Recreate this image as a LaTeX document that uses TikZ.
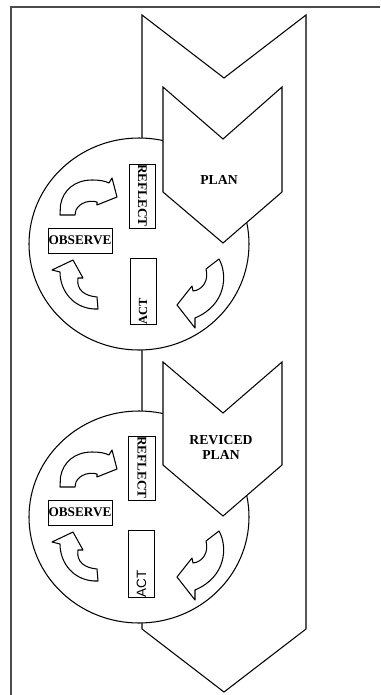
\documentclass[tikz,border=0pt]{standalone}
\usepackage{fontspec}
\setmainfont{Liberation Serif}
\newfontfamily\actsans{Liberation Sans}

\begin{document}
\begin{tikzpicture}[x=0.03cm, y=0.03cm, yscale=-1,
  outline/.style={draw=black, line width=0.9pt, fill=white, line join=miter},
  curvy/.style={draw=black, line width=0.9pt, fill=white, line join=round},
  wordbox/.style={rectangle, draw=black, line width=0.7pt, fill=white, inner sep=0pt},
  wordfont/.style={font=\bfseries\fontsize{11.3}{12}\selectfont},
  upright/.style={wordbox, wordfont, rotate=-90, text width=1.92cm, minimum height=0.8cm, align=left},
  upward/.style={wordbox, font=\bfseries\fontsize{10.6}{12}\selectfont, rotate=90, text width=2cm, minimum height=0.78cm, align=left},
  flat/.style={wordbox, wordfont, minimum width=1.92cm, minimum height=0.75cm},
  plantext/.style={font=\bfseries\fontsize{11.7}{12.8}\selectfont, align=center, inner sep=0pt}]

\useasboundingbox (0,0) rectangle (380,695);
% page frame
\draw[black!70, line width=1pt] (380,7) -- (11,7) -- (11,695);

% big arrow behind everything
\draw[outline] (142,15) -- (224,78) -- (306,15) -- (306,629) -- (224,692) -- (142,629) -- cycle;

% the two cycles
\draw[outline] (139,244) ellipse[x radius=110, y radius=106];
\draw[outline] (139,517) ellipse[x radius=110, y radius=106];

% plans
\draw[outline] (163,87) -- (223,139) -- (282,87) -- (282,192) -- (223,243) -- (163,192) -- cycle;
\node[plantext] (planA) at (219,180) {PLAN};
\draw[outline] (163,362) -- (223,413) -- (282,362) -- (282,465) -- (223,516) -- (163,465) -- cycle;
\node[plantext] (planB) at (221,447) {REVICED\\PLAN};

% first cycle
\node[upright] (reflectA) at (142.5,196) {REFLECT};
\node[flat] (observeA) at (80,240.5) {OBSERVE};
\node[upward] (actA) at (143,291.5) {ACT};

\draw[curvy] (60,215) -- (60.5,205) .. controls (63,190) and (75,180) .. (92,180) .. controls (100,180) and (105,181) .. (109,183) -- (112,178) -- (117,197) -- (97,205) -- (97,202) .. controls (90,200) and (80,202) .. (76,210) -- (75,215) -- cycle;
\draw[curvy] (73,260) -- (52,270) -- (60,272) .. controls (60,292) and (75,310) .. (98,309) -- (97,297) .. controls (85,296) and (76,290) .. (78,278) -- (83,278) -- cycle;
\draw[curvy] (206,269) -- (219,259) .. controls (228,275) and (226,305) .. (195,318) -- (195,328) -- (177,305) -- (192,286) -- (193,291) .. controls (203,290) and (209,280) .. (206,269) -- cycle;

% second cycle
\begin{scope}[shift={(0,272)}]
\node[upright] (reflectB) at (142,196) {REFLECT};
\node[flat] (observeB) at (80,240.5) {OBSERVE};
\node[upward, font=\actsans\fontsize{11.5}{12}\selectfont] (actB) at (141.5,292) {ACT};

\draw[curvy] (60,215) -- (60.5,205) .. controls (63,190) and (75,180) .. (92,180) .. controls (100,180) and (105,181) .. (109,183) -- (112,178) -- (117,197) -- (97,205) -- (97,202) .. controls (90,200) and (80,202) .. (76,210) -- (75,215) -- cycle;
\draw[curvy] (73,260) -- (52,270) -- (60,272) .. controls (60,292) and (75,310) .. (98,309) -- (97,297) .. controls (85,296) and (76,290) .. (78,278) -- (83,278) -- cycle;
\draw[curvy] (206,269) -- (219,259) .. controls (228,275) and (226,305) .. (195,318) -- (195,328) -- (177,305) -- (192,286) -- (193,291) .. controls (203,290) and (209,280) .. (206,269) -- cycle;
\end{scope}
\end{tikzpicture}
\end{document}
